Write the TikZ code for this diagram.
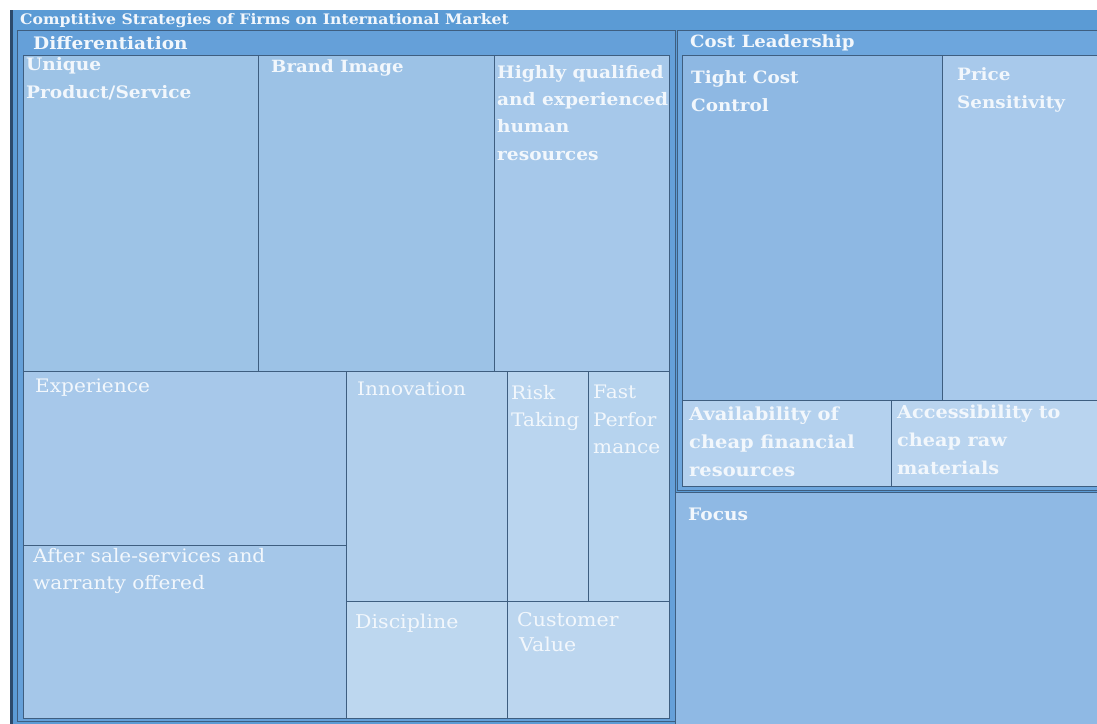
\documentclass[tikz,border=0pt]{standalone}
\usepackage{fontspec}
\setmainfont{DejaVu Serif}[FakeStretch=1.08]
\definecolor{outerblue}{HTML}{5B9BD5}
\definecolor{grpA}{HTML}{65A0D9}
\definecolor{grpB}{HTML}{6DA6DD}
\definecolor{edge}{HTML}{3E5E80}
\definecolor{darkedge}{HTML}{2C4A6B}
\definecolor{cUnique}{HTML}{9DC3E6}
\definecolor{cBrand}{HTML}{9CC2E6}
\definecolor{cHigh}{HTML}{A6C8EA}
\definecolor{cExp}{HTML}{A7C8EA}
\definecolor{cAfter}{HTML}{A5C7E9}
\definecolor{cInno}{HTML}{B1CFEC}
\definecolor{cRisk}{HTML}{BAD5EF}
\definecolor{cFast}{HTML}{B6D3EE}
\definecolor{cDisc}{HTML}{BDD7EF}
\definecolor{cCust}{HTML}{BCD6EF}
\definecolor{cTight}{HTML}{8EB8E3}
\definecolor{cPrice}{HTML}{A8C9EB}
\definecolor{cAvail}{HTML}{B4D1EE}
\definecolor{cAccess}{HTML}{B9D4EF}
\definecolor{cFocus}{HTML}{8FB9E4}
\definecolor{txt}{HTML}{F2F7FC}
\tikzset{
  cellbox/.style={draw=edge, line width=0.8pt},
  grpbox/.style={draw=edge, line width=1pt},
  lblB/.style={anchor=north west, inner sep=0pt, align=left, text=txt,
    font=\bfseries\fontsize{17.2}{28}\selectfont},
  lblR/.style={anchor=north west, inner sep=0pt, align=left, text=txt,
    font=\fontsize{18.6}{27.5}\selectfont},
}
\begin{document}
\begin{tikzpicture}[x=1pt,y=-1pt]
\useasboundingbox (0,0) rectangle (1097,723);
\begin{scope}
\clip (0,0) rectangle (1097,723);
% outer frame
\fill[outerblue] (10,10) rectangle (1110,730);
\fill[darkedge] (10,10) rectangle (12.5,730);
% Differentiation group
\filldraw[grpbox, fill=grpA] (17,30) rectangle (675,721);
% Cost leadership group
\filldraw[grpbox, fill=grpB] (677,30) rectangle (1110,490);
% Focus
\filldraw[grpbox, fill=cFocus] (675,492) rectangle (1110,730);
% Differentiation cells
\filldraw[cellbox, fill=cUnique] (23,55) rectangle (258,371);
\filldraw[cellbox, fill=cBrand] (258,55) rectangle (494,371);
\filldraw[cellbox, fill=cHigh] (494,55) rectangle (669,371);
\filldraw[cellbox, fill=cExp] (23,371) rectangle (346,545);
\filldraw[cellbox, fill=cAfter] (23,545) rectangle (346,718);
\filldraw[cellbox, fill=cInno] (346,371) rectangle (507,601);
\filldraw[cellbox, fill=cRisk] (507,371) rectangle (588,601);
\filldraw[cellbox, fill=cFast] (588,371) rectangle (669,601);
\filldraw[cellbox, fill=cDisc] (346,601) rectangle (507,718);
\filldraw[cellbox, fill=cCust] (507,601) rectangle (669,718);
% Cost leadership cells
\filldraw[cellbox, fill=cTight] (682,55) rectangle (942,400);
\filldraw[cellbox, fill=cPrice] (942,55) rectangle (1110,400);
\filldraw[cellbox, fill=cAvail] (682,400) rectangle (891,486);
\filldraw[cellbox, fill=cAccess] (891,400) rectangle (1110,486);
\end{scope}
% labels
\node[lblB, font=\bfseries\fontsize{14.5}{16}\selectfont] (title) at (20,13) {Comptitive Strategies of Firms on International Market};
\node[lblB] (diff) at (33,36) {Differentiation};
\node[lblB, font=\bfseries\fontsize{16.8}{28}\selectfont] (cost) at (690,35) {Cost Leadership};
\node[lblB] (unique) at (26,57) {Unique\\Product/Service};
\node[lblB, font=\bfseries\fontsize{16.8}{28}\selectfont] (brand) at (271,60) {Brand Image};
\node[lblB, font=\bfseries\fontsize{17.2}{27.3}\selectfont] (high) at (497,65) {Highly qualified\\and experienced\\human\\resources};
\node[lblB, font=\bfseries\fontsize{17}{28}\selectfont] (tight) at (691,70) {Tight Cost\\Control};
\node[lblB, font=\bfseries\fontsize{17}{28}\selectfont] (price) at (957,67) {Price\\Sensitivity};
\node[lblR] (exp) at (35,379) {Experience};
\node[lblR] (inno) at (357,382) {Innovation};
\node[lblR] (risk) at (511,385) {Risk\\Taking};
\node[lblR] (fast) at (593,385) {Fast\\Perfor\\mance};
\node[lblR] (after) at (33,548) {After sale-services and\\warranty offered};
\node[lblR, font=\fontsize{19}{25}\selectfont] (disc) at (355,614) {Discipline};
\node[lblR, font=\fontsize{19}{25}\selectfont] (cust) at (517,612) {Customer\\\hspace*{2pt}Value};
\node[lblB, font=\bfseries\fontsize{18}{28}\selectfont] (avail) at (689,407) {Availability of\\cheap financial\\resources};
\node[lblB, font=\bfseries\fontsize{17.8}{28}\selectfont] (access) at (897,405) {Accessibility to\\cheap raw\\materials};
\node[lblB] (focus) at (688,508) {Focus};
\end{tikzpicture}
\end{document}
